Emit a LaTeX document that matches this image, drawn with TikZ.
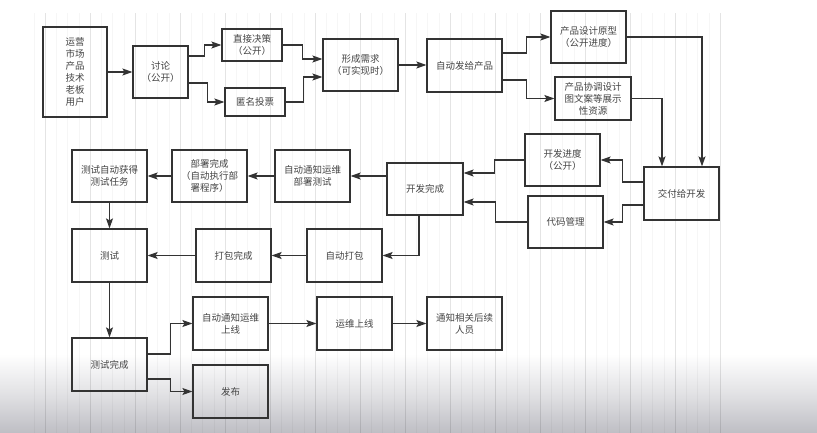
\documentclass[tikz,border=0pt]{standalone}
\usepackage{fontspec}
\newfontfamily\cjk{Noto Sans CJK SC}
\usetikzlibrary{arrows.meta,calc}
\definecolor{ink}{HTML}{333333}
\definecolor{txt}{HTML}{454545}
\definecolor{shadow}{RGB}{190,190,196}
\begin{document}
\begin{tikzpicture}[x=1pt,y=-1pt,
  box/.style={draw=ink,line width=1.2pt,minimum width=75pt,minimum height=52pt,
    inner sep=1pt,align=center,text=txt,
    font=\cjk\fontsize{9.5}{12}\selectfont},
  flow/.style={draw=ink,line width=1.1pt,
    -{Stealth[length=10pt,width=7pt,inset=2pt]}}]
\useasboundingbox (0,0) rectangle (817,433);
\fill[white] (0,0) rectangle (817,433);
% darkening band at the foot of the page
\shade[top color=white,bottom color=shadow,middle color=shadow!45] (0,354) rectangle (817,433);
% faint canvas grid, drawn translucent so it also shows over the band
\draw[black,draw opacity=0.035,line width=0.5pt,step=11.25] (32,13) grid (727,433);
\draw[black,draw opacity=0.07,line width=0.6pt,step=45] (32,13) grid (727,433);

% first row: requirement gathering
\node[box,minimum width=64pt,minimum height=90pt] (src) at (75,72) {运营\\市场\\产品\\技术\\老板\\用户};
\node[box,minimum width=55pt] (disc) at (160.5,72) {讨论\\（公开）};
\node[box,minimum width=60pt,minimum height=32pt] (dec) at (252,45) {直接决策\\（公开）};
\node[box,minimum width=60pt,minimum height=28pt] (vote) at (255,102) {匿名投票};
\node[box] (req) at (360.5,65) {形成需求\\（可实现时）};
\node[box,minimum height=53pt] (auto) at (464.5,65.5) {自动发给产品};
\node[box] (proto) at (588.5,37) {产品设计原型\\（公开进度）};
\node[box,minimum width=76pt,minimum height=43pt] (coord) at (593,98.5) {产品协调设计\\图文案等展示\\性资源};

% development
\node[box,minimum height=53pt] (deliver) at (681.5,193.5) {交付给开发};
\node[box] (prog) at (562.5,160) {开发进度\\（公开）};
\node[box] (code) at (565.5,222) {代码管理};
\node[box,minimum width=76pt] (done) at (425,189) {开发完成};

% deployment for testing
\node[box] (notify) at (312.5,176) {自动通知运维\\部署测试};
\node[box] (deploy) at (209.5,176) {部署完成\\（自动执行部\\署程序）};
\node[box] (fetch) at (109.5,176) {测试自动获得\\测试任务};

% packaging and testing
\node[box,minimum height=53pt] (test) at (109.5,255.5) {测试};
\node[box,minimum height=53pt] (pkgdone) at (233.5,255.5) {打包完成};
\node[box,minimum height=53pt] (pack) at (344.5,255.5) {自动打包};

% release
\node[box,minimum height=53pt] (tdone) at (109.5,364.5) {测试完成};
\node[box,minimum height=53pt] (online) at (230.5,323.5) {自动通知运维\\上线};
\node[box,minimum height=53pt] (release) at (230.5,391.5) {发布};
\node[box,minimum height=53pt] (ops) at (354.5,323.5) {运维上线};
\node[box,minimum height=53pt] (inform) at (464.5,323.5) {通知相关后续\\人员};

% connectors
\draw[flow] (src) -- (disc);
\draw[flow] ($(disc.east)+(0,-16)$) -- ++(16,0) |- (dec.west);
\draw[flow] ($(disc.east)+(0,11)$) -- ++(19,0) |- (vote.west);
\draw[flow] (dec.east) -- ++(20,0) |- ($(req.west)+(0,-6)$);
\draw[flow] (vote.east) -- ++(18,0) |- ($(req.west)+(0,12)$);
\draw[flow] (req.east) -- (auto.west |- req.east);
\draw[flow] ($(auto.east)+(0,-12.5)$) -- ++(24,0) |- (proto.west);
\draw[flow] ($(auto.east)+(0,14.5)$) -- ++(24,0) |- (coord.west);
\draw[flow] (proto.east) -| ($(deliver.north)+(20.5,0)$);
\draw[flow] (coord.east) -| ($(deliver.north)+(-19.5,0)$);
\draw[flow] ($(deliver.west)+(0,-11.5)$) -- ++(-21,0) |- (prog.east);
\draw[flow] ($(deliver.west)+(0,11.5)$) -- ++(-21,0) |- (code.east);
\draw[flow] (prog.west) -- ++(-30,0) |- ($(done.east)+(0,-16)$);
\draw[flow] (code.west) -- ++(-32,0) |- ($(done.east)+(0,13)$);
\draw[flow] (done.west |- notify.east) -- (notify.east);
\draw[flow] (notify) -- (deploy);
\draw[flow] (deploy) -- (fetch);
\draw[flow] ($(done.south)+(-6,0)$) |- (pack.east);
\draw[flow] (pack) -- (pkgdone);
\draw[flow] (pkgdone) -- (test);
\draw[flow] (fetch) -- (test);
\draw[flow] (test) -- (tdone);
\draw[flow] ($(tdone.east)+(0,-10.5)$) -- ++(23,0) |- (online.west);
\draw[flow] ($(tdone.east)+(0,14.5)$) -- ++(23,0) |- (release.west);
\draw[flow] (online) -- (ops);
\draw[flow] (ops) -- (inform);
\end{tikzpicture}
\end{document}
